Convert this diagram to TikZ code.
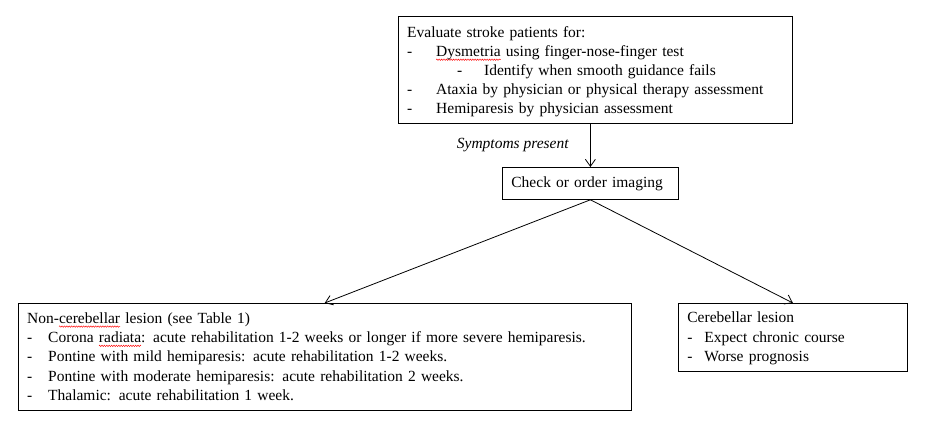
\documentclass[tikz,border=0pt]{standalone}
\usepackage{fontspec}
\setmainfont{Liberation Serif}
\usepackage{xcolor}
\usepackage{tikz}
\usetikzlibrary{arrows.meta,decorations.pathmorphing}

\newcommand{\spellmark}[1]{\setbox0\hbox{#1}\leavevmode\rlap{\tikz[overlay,baseline=0pt,x=1pt,y=1pt]
  \draw[red,line width=0.45pt,decorate,decoration={zigzag,amplitude=0.7pt,segment length=2.4pt}] (0,-3.2) -- (\the\wd0,-3.2);}\box0\relax}
\newcommand{\dashitem}[2][29pt]{\makebox[#1][l]{-}#2}

\begin{document}
\begin{tikzpicture}[x=1pt,y=-1pt,line width=0.8pt,
    box/.style={draw,rectangle,align=left,inner xsep=9pt,inner ysep=0pt,
      font=\fontsize{15.5}{19.3}\selectfont},
    flow/.style={-{Straight Barb[length=7pt,width=10pt]}}]
  \useasboundingbox (0,0) rectangle (932,427);
  % boxes
  \node[box,anchor=north west,minimum width=394,minimum height=107,text width=376,
    font=\fontsize{15.5}{19}\selectfont,text height=15pt]
    (eval) at (398,16) {Evaluate stroke patients for:\\
      \dashitem{\spellmark{Dysmetria} using finger-nose-finger test}\\
      \hspace*{50pt}\dashitem[27pt]{Identify when smooth guidance fails}\\
      \dashitem{Ataxia by physician or physical therapy assessment}\\
      \dashitem{Hemiparesis by physician assessment}};
  \node[box,anchor=north west,minimum width=176,minimum height=32,text width=158]
    (imaging) at (502,167) {Check or order imaging};
  \node[box,anchor=north west,minimum width=613,minimum height=107,text width=595,inner xsep=8pt]
    (noncereb) at (18,303) {Non-\spellmark{cerebellar} lesion (see Table 1)\\
      \dashitem[21pt]{Corona \spellmark{radiata}: acute rehabilitation 1-2 weeks or longer if more severe hemiparesis.}\\
      \dashitem[21pt]{Pontine with mild hemiparesis: acute rehabilitation 1-2 weeks.}\\
      \dashitem[21pt]{Pontine with moderate hemiparesis: acute rehabilitation 2 weeks.}\\
      \dashitem[21pt]{Thalamic: acute rehabilitation 1 week.}};
  \node[box,anchor=north west,minimum width=229,minimum height=68,text width=211,text height=13pt]
    (cereb) at (678,303) {Cerebellar lesion\\
      \dashitem[17pt]{Expect chronic course}\\
      \dashitem[17pt]{Worse prognosis}};
  % connectors
  \draw[flow] (imaging.north |- eval.south) -- node[left=18pt,font=\fontsize{15.5}{19}\selectfont\itshape] (sympt) {Symptoms present} (imaging.north);
  \draw[flow] (imaging.south) -- (noncereb.north);
  \draw[flow] (imaging.south) -- (cereb.north);
\end{tikzpicture}
\end{document}
